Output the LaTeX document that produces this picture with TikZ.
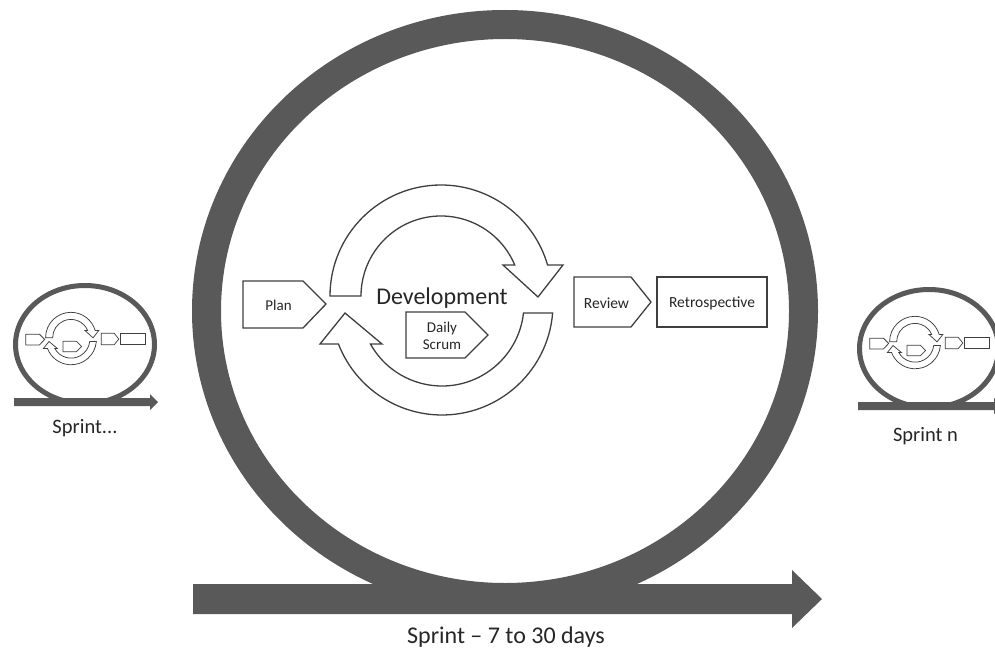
\documentclass[tikz,border=0pt]{standalone}
\usepackage{fontspec}
\setmainfont{Carlito}
\definecolor{ringgray}{HTML}{595959}
\definecolor{linegray}{HTML}{3F3F3F}
\definecolor{inkgray}{HTML}{262626}

\tikzset{
  shapeline/.style={draw=linegray, fill=white, line width=1.3pt, line join=miter},
  ringfill/.style={fill=ringgray},
  lbl/.style={text=inkgray, inner sep=0pt},
}

% Plan / development cycle / daily scrum / review / retrospective outlines,
% drawn in pixel-like coordinates around the middle of the sprint ring
\newcommand{\sprintshapes}{%
  % Plan
  \draw[shapeline] (243,281) -- (303,281) -- (326,304) -- (303,328) -- (243,328) -- cycle;
  % upper circular arrow
  \draw[shapeline] ([shift={(441,296)}]180:111)
    arc[start angle=180, end angle=343.8, radius=111]
    -- (563,265) -- (538,297) -- (503,265)
    -- ([shift={(441,296)}]337.2:80)
    arc[start angle=337.2, end angle=180, radius=80] -- cycle;
  % lower circular arrow
  \draw[shapeline] ([shift={(442,304)}]4.65:111)
    arc[start angle=4.65, end angle=158.9, radius=111]
    -- (320,344) -- (345,313) -- (382,344)
    -- ([shift={(442,304)}]150.8:82)
    arc[start angle=150.8, end angle=6.3, radius=82] -- cycle;
  % Daily scrum
  \draw[shapeline] (406,312) -- (465,312) -- (488,335) -- (465,358) -- (406,358) -- cycle;
  % Review
  \draw[shapeline] (574,277) -- (631,277) -- (651,302) -- (631,327) -- (574,327) -- cycle;
  % Retrospective
  \draw[shapeline] (657,277) rectangle (767,327);
}

% a small sprint: ring on its time line with a miniature of the cycle
\newcommand{\sprinticon}{%
  \fill[ringfill, even odd rule] (85,344.5) ellipse[x radius=72, y radius=61.5]
                                 (85,344.5) ellipse[x radius=67, y radius=56.5];
  \fill[ringfill] (14,398) -- (150,398) -- (150,394) -- (158,402) -- (150,410)
                  -- (150,406) -- (14,406) -- cycle;
  \begin{scope}[shift={(85.5,339)}, scale=0.228, shift={(-505,-302)},
                shapeline/.append style={line width=0.75pt}]
    \sprintshapes
  \end{scope}
}

\begin{document}
\begin{tikzpicture}[x=1pt, y=-1pt]
  \useasboundingbox (0,0) rectangle (995,655);
  \clip (0,0) rectangle (995,655);
  \fill[white] (0,0) rectangle (995,655);

  % main sprint ring and its time line
  \fill[ringfill, even odd rule] (505,311) ellipse[x radius=313, y radius=301]
                                 (505,311) ellipse[x radius=284, y radius=272];
  \fill[ringfill] (193,584) -- (792,584) -- (792,570) -- (822,599) -- (792,628)
                  -- (792,614) -- (193,614) -- cycle;

  \sprintshapes
  \node[lbl, font=\fontsize{24}{28}\selectfont, anchor=base] (dev) at (442,304) {Development};
  \node[lbl, font=\fontsize{15}{18}\selectfont] (plan) at (278.5,305) {Plan};
  \node[lbl, font=\fontsize{15}{18}\selectfont, align=center] (daily) at (442,336) {Daily\\[-1pt]Scrum};
  \node[lbl, font=\fontsize{15.5}{18}\selectfont] (review) at (606.5,303) {Review};
  \node[lbl, font=\fontsize{15.5}{18}\selectfont] (retro) at (712,303) {Retrospective};
  \node[lbl, font=\fontsize{24}{28}\selectfont] (main) at (506,637) {Sprint – 7 to 30 days};

  % neighbouring sprints
  \begin{scope}
    \sprinticon
  \end{scope}
  \begin{scope}[shift={(844,4)}]
    \sprinticon
  \end{scope}
  \node[lbl, font=\fontsize{20.5}{24}\selectfont] (prev) at (85,428) {Sprint...};
  \node[lbl, font=\fontsize{20.5}{24}\selectfont] (next) at (925.5,436) {Sprint n};
\end{tikzpicture}
\end{document}
